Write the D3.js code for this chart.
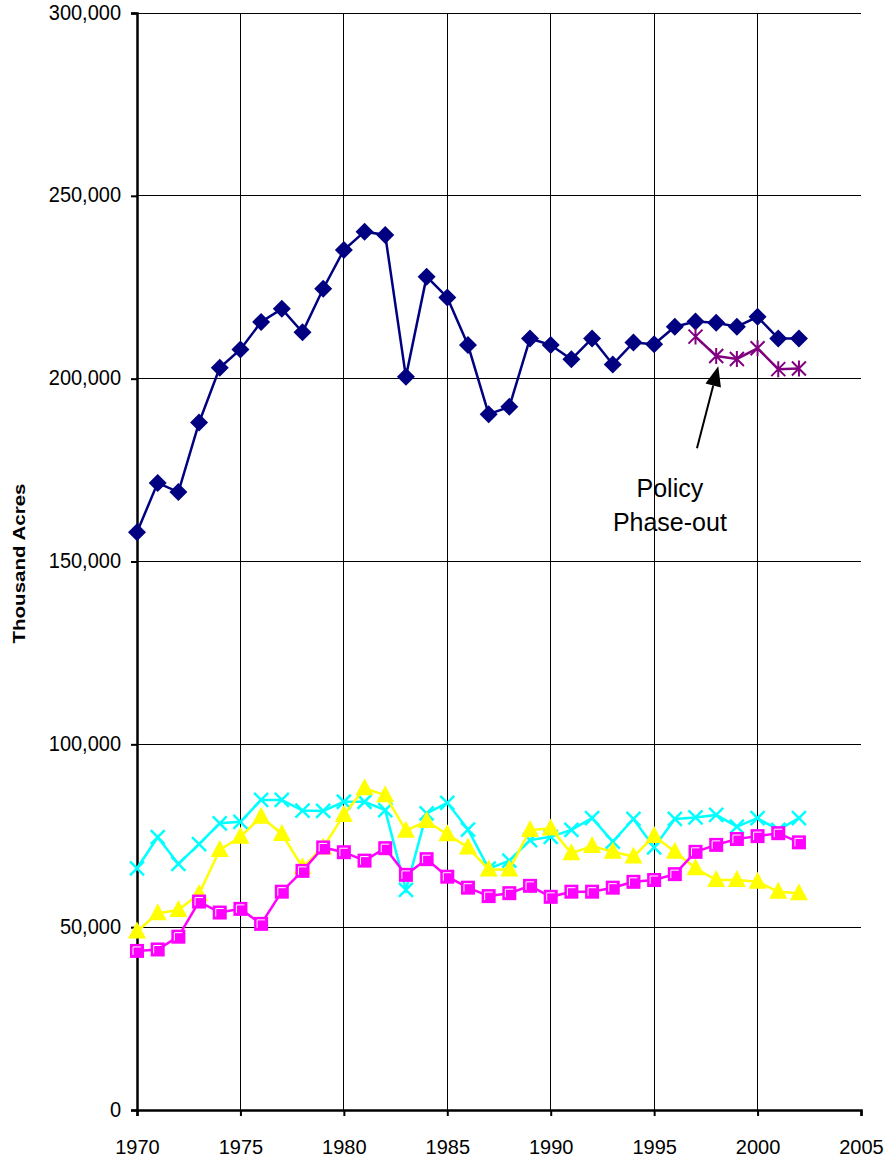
<!DOCTYPE html>
<html><head><meta charset="utf-8">
<script src="https://cdn.jsdelivr.net/npm/d3@7"></script>
<style>body{margin:0;background:#fff}svg{display:block}</style>
</head><body><svg id="c" width="891" height="1163"></svg>
<script>
const years = d3.range(1970, 2003);
const navy = [158000,171500,169000,188000,203000,208000,215500,219100,212700,224600,235200,240200,239300,200500,227900,222200,209200,190300,192300,211000,209200,205300,211000,203900,209900,209400,214200,215600,215300,214200,216900,211000,211000];
const phaseYears = [1997,1998,1999,2000,2001,2002];
const phaseOut = [211500,206200,205400,208300,202600,202800];
const cyan = [66100,74600,67300,72700,78400,78800,84800,84800,81900,81800,84300,84300,82000,60200,81100,84000,76700,66000,68200,73800,74700,76600,79800,73400,79600,71800,79600,80000,80700,77500,79800,76600,79800];
const yellow = [48800,53800,54700,59100,71100,74700,80200,75500,66400,71800,80700,88000,86100,76400,79000,75400,71800,65800,65800,76600,77000,70200,72200,70600,69300,74900,70600,66100,62900,62900,62400,59700,59300];
const magenta = [43500,43900,47400,57000,54000,55000,50900,59700,65400,71800,70500,68200,71600,64300,68600,63800,60800,58500,59300,61300,58300,59700,59700,60800,62400,62900,64500,70600,72500,74100,74900,75700,73200];
const xTicks = [1970,1975,1980,1985,1990,1995,2000,2005];
const yTicks = [0,50000,100000,150000,200000,250000,300000];
const annotationLines = ["Policy","Phase-out"];

const svg = d3.select("#c");
const L = 137, R = 861, T = 13, B = 1110;
const x = d3.scaleLinear().domain([1970, 2005]).range([L, R]);
const y = d3.scaleLinear().domain([0, 300000]).range([B, T]);
const font = "'Liberation Sans', Arial, sans-serif";

// gridlines
const g = svg.append("g");
g.selectAll(".hg").data(yTicks.filter(d => d > 0)).join("line")
  .attr("x1", L).attr("x2", R).attr("y1", d => y(d)).attr("y2", d => y(d))
  .attr("stroke", "#000").attr("stroke-width", 1).attr("shape-rendering", "crispEdges");
g.selectAll(".vg").data(xTicks.filter(d => d > 1970 && d < 2005)).join("line")
  .attr("y1", T).attr("y2", B).attr("x1", d => x(d)).attr("x2", d => x(d))
  .attr("stroke", "#000").attr("stroke-width", 1).attr("shape-rendering", "crispEdges");

// axes
const yAxis = d3.axisLeft(y).tickValues(yTicks).tickSize(6).tickPadding(10)
  .tickFormat(d3.format(","));
const ya = svg.append("g").attr("transform", `translate(${L},0)`).call(yAxis);
ya.select(".domain").attr("stroke-width", 2.5);
ya.selectAll(".tick line").attr("stroke-width", 2);
ya.selectAll("text").attr("font-family", font).attr("font-size", 20).attr("fill", "#000")
  .attr("transform", "scale(1,1.08)").attr("dy", "0.28em");

const xAxis = d3.axisBottom(x).tickValues(xTicks).tickSize(6).tickPadding(24)
  .tickFormat(d3.format("d"));
const xa = svg.append("g").attr("transform", `translate(0,${B})`).call(xAxis);
xa.select(".domain").attr("stroke-width", 2.5);
xa.selectAll(".tick line").attr("stroke-width", 2);
xa.selectAll("text").attr("font-family", font).attr("font-size", 20).attr("fill", "#000");

svg.append("text").attr("transform", `translate(25,${(T + B) / 2 + 2}) rotate(-90)`)
  .attr("text-anchor", "middle").attr("font-family", font).attr("font-weight", "bold")
  .attr("font-size", 16).attr("fill", "#000")
  .attr("textLength", 160).attr("lengthAdjust", "spacingAndGlyphs")
  .text("Thousand Acres");

const line = d3.line().x(d => x(d[0])).y(d => y(d[1]));
function series(xs, vals, color) {
  const pts = xs.map((yr, i) => [yr, vals[i]]);
  svg.append("path").datum(pts).attr("d", line).attr("fill", "none")
    .attr("stroke", color).attr("stroke-width", 2.5);
  return pts;
}

// cyan X
const cp = series(years, cyan, "#00FFFF");
svg.append("g").selectAll("path").data(cp).join("path")
  .attr("transform", d => `translate(${x(d[0])},${y(d[1])})`)
  .attr("d", "M-7,-7L7,7M-7,7L7,-7").attr("stroke", "#00FFFF").attr("stroke-width", 2.5).attr("fill", "none");

// yellow triangles
const yp = series(years, yellow, "#FFFF00");
svg.append("g").selectAll("path").data(yp).join("path")
  .attr("transform", d => `translate(${x(d[0])},${y(d[1])})`)
  .attr("d", "M0,-10L9,7L-9,7Z").attr("fill", "#FFFF00");

// magenta squares
const mp = series(years, magenta, "#FF00FF");
const ms = svg.append("g").selectAll("g").data(mp).join("g")
  .attr("transform", d => `translate(${x(d[0])},${y(d[1])})`);
ms.append("rect").attr("x", -7).attr("y", -7).attr("width", 14).attr("height", 14).attr("fill", "#FF00FF");
ms.append("path").attr("d", "M-4,4V-4H4").attr("stroke", "#fff").attr("stroke-width", 1).attr("fill", "none");

// navy diamonds
const np = series(years, navy, "#000080");
svg.append("g").selectAll("path").data(np).join("path")
  .attr("transform", d => `translate(${x(d[0])},${y(d[1])})`)
  .attr("d", "M0,-9L9,0L0,9L-9,0Z").attr("fill", "#000080");

// purple asterisks
const pp = series(phaseYears, phaseOut, "#800080");
svg.append("g").selectAll("path").data(pp).join("path")
  .attr("transform", d => `translate(${x(d[0])},${y(d[1])})`)
  .attr("d", "M-7,-7L7,7M-7,7L7,-7M0,-8V8").attr("stroke", "#800080").attr("stroke-width", 2).attr("fill", "none");

// annotation arrow
const ax0 = x(1997.07), ay0 = y(181000), ax1 = x(1998.1), ay1 = y(203400);
const ang = Math.atan2(ay1 - ay0, ax1 - ax0);
const hl = 20, hw = 8;
const bx = ax1 - hl * Math.cos(ang), by = ay1 - hl * Math.sin(ang);
svg.append("line").attr("x1", ax0).attr("y1", ay0).attr("x2", bx).attr("y2", by)
  .attr("stroke", "#000").attr("stroke-width", 2);
svg.append("path").attr("d", `M${ax1},${ay1}L${bx + hw * Math.sin(ang)},${by - hw * Math.cos(ang)}L${bx - hw * Math.sin(ang)},${by + hw * Math.cos(ang)}Z`)
  .attr("fill", "#000");

svg.append("g").selectAll("text").data(annotationLines).join("text")
  .attr("x", x(1995.76)).attr("y", (d, i) => y(167600) + i * 34)
  .attr("text-anchor", "middle").attr("font-family", font).attr("font-size", 25).attr("fill", "#000")
  .text(d => d);
</script></body></html>
